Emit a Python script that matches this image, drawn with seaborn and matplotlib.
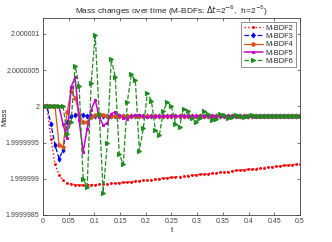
import numpy as np
import pandas as pd
import matplotlib
matplotlib.use("Agg")
import matplotlib.pyplot as plt
import seaborn as sns

# time grid (dt = 2^-7) and mass deviations from 2, in units of 1e-7
t = np.arange(65) * 2.0**-7

bdf2 = [0, 0, -4.5, -8.0, -9.5, -10.2, -10.6, -10.75, -10.8, -10.85, -10.85, -10.85,
        -10.8, -10.8, -10.75, -10.75, -10.7,
        -10.65, -10.6, -10.55, -10.5, -10.45, -10.4, -10.35, -10.25, -10.2, -10.15,
        -10.1, -10.05, -10.0, -9.9, -9.85, -9.8, -9.75, -9.7, -9.65, -9.55, -9.5,
        -9.45, -9.4, -9.35, -9.3, -9.2, -9.15, -9.1, -9.05, -9.0, -8.95, -8.85,
        -8.8, -8.75, -8.7, -8.65, -8.6, -8.5, -8.45, -8.4, -8.35, -8.3, -8.25,
        -8.15, -8.1, -8.05, -8.0, -7.95]
bdf3 = [0, 0, -2.5, -5.4, -7.2, -6.0, -2.2, -1.4, -1.2, -1.2, -1.25, -1.3] + [-1.3] * 53
bdf4 = [0, 0, 0, 0, -5.3, -5.6, -0.8, 2.1, 1.2, -1.0, -2.2, -2.2, -1.5, -1.2, -1.1,
        -1.2, -1.3] + [-1.3] * 48
bdf5 = [0, 0, 0, 0, 0, -2.5, -4.3, 2.7, 4.0, -1.9, -6.3, -3.1, -0.5, 0.9, -1.5,
        -2.6, -2.3, -1.0, -0.8, -1.2, -1.6, -1.7, -1.4, -1.2, -1.2, -1.4, -1.5,
        -1.4, -1.3] + [-1.3] * 36
bdf6 = [0, 0, 0, 0, 0, 0, -3.8, -2.2, 5.6, 2.8, -10.0, -11.1, 3.2, 9.9, -1.0,
        -11.9, -5.1, 6.5, 4.1, -6.6, -8.0, 0.6, 4.4, 3.6, -6.1, -3.0, 1.9, 0.8,
        -3.3, -3.9, -0.6, 0.6, 0.0, -2.4, -2.8, -0.3, -0.7, -1.6, -2.2, -1.6,
        -0.7, -1.0, -1.9, -1.7, -1.0, -1.2, -1.6, -1.5, -1.2, -1.3, -1.5, -1.4,
        -1.2, -1.3, -1.4, -1.4, -1.3] + [-1.3] * 8

names = ["M-BDF2", "M-BDF3", "M-BDF4", "M-BDF5", "M-BDF6"]
series = [bdf2, bdf3, bdf4, bdf5, bdf6]

xticks = [0, 0.05, 0.1, 0.15, 0.2, 0.25, 0.3, 0.35, 0.4, 0.45, 0.5]
xticklabels = ["0", "0.05", "0.1", "0.15", "0.2", "0.25", "0.3", "0.35", "0.4", "0.45", "0.5"]
yticklabels = ["1.9999985", "1.999999", "1.9999995", "2", "2.0000005", "2.000001"]
yticks = [float(s) for s in yticklabels]

styles = {
    "M-BDF2": dict(color="#FF0000", ls=":", marker=".", ms=2.5, lw=1.0),
    "M-BDF3": dict(color="#0000FF", ls="--", marker="d", ms=2.5, lw=0.9),
    "M-BDF4": dict(color="#D95319", ls="-", marker="o", ms=2.5, lw=0.9),
    "M-BDF5": dict(color="#CC00CC", ls="-", marker="s", ms=2, lw=1.1),
    "M-BDF6": dict(color="#1E8C1E", ls="--", marker=">", ms=3, lw=0.9),
}

sns.set_style("ticks")
plt.rcParams["font.family"] = ["Liberation Sans", "DejaVu Sans"]

fig = plt.figure(figsize=(3.32, 2.42), dpi=100)
ax = fig.add_axes([0.1295, 0.1116, 0.774, 0.814])

for name, vals in zip(names, series):
    s = styles[name]
    mass = 2.0 + np.array(vals) * 1e-7
    df = pd.DataFrame({"t": t, "Mass": mass})
    sns.lineplot(data=df, x="t", y="Mass", ax=ax, color=s["color"], linestyle=s["ls"],
                 marker=s["marker"], markersize=s["ms"], linewidth=s["lw"],
                 markeredgecolor=s["color"], label=name)

ax.set_xlim(0, 0.5)
ax.set_ylim(2.0 - 15e-7, 2.0 + 12.2e-7)
ax.set_xticks(xticks)
ax.set_xticklabels(xticklabels)
ax.set_yticks(yticks)
ax.set_yticklabels(yticklabels)
ax.tick_params(direction="in", top=True, right=True, labelsize=5, length=2.5,
               width=0.5, colors="#404040", pad=2.5)
for sp in ax.spines.values():
    sp.set_linewidth(0.6)
    sp.set_color("#404040")

ax.set_xlabel("t", fontsize=5.5, labelpad=1)
ax.set_ylabel("Mass", fontsize=5.5)
ax.yaxis.set_label_coords(-0.135, 0.5)
ax.set_title(r"Mass changes over time (M-BDFs: $\Delta t$=2$^{-6}$,  h=2$^{-5}$)",
             fontsize=6, pad=3)

leg = ax.legend(loc="upper right", fontsize=5.3, frameon=True, fancybox=False,
                borderpad=0.3, labelspacing=0.15, handlelength=2.6, handletextpad=0.4,
                borderaxespad=0.6)
leg.get_frame().set_edgecolor("#404040")
leg.get_frame().set_linewidth(0.5)

fig.savefig("out.png", dpi=100)
